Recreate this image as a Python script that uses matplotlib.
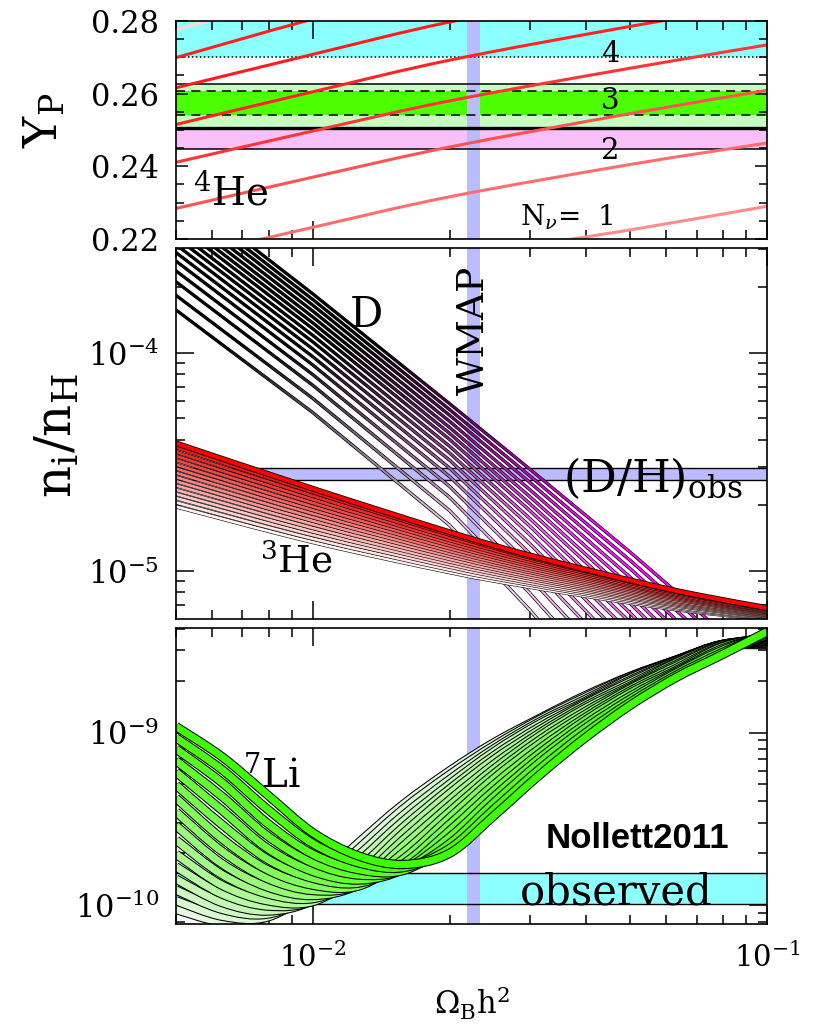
import numpy as np
import matplotlib.pyplot as plt
from matplotlib.collections import LineCollection
from matplotlib.colors import to_rgb
from matplotlib.path import Path
from matplotlib.patches import PathPatch
from matplotlib.ticker import MultipleLocator, NullFormatter, FormatStrFormatter, LogLocator

plt.rcParams['font.family'] = ['DejaVu Serif']
plt.rcParams['mathtext.fontset'] = 'dejavuserif'

# WMAP baryon density
wmap_lo, wmap_hi = 0.0219, 0.0233

# --- 4He mass fraction Y_P vs Omega_B h^2, one curve per N_nu = 1..8
yp_x = [0.005, 0.01, 0.02, 0.05, 0.1]
yp_n1 = [0.1970, 0.2060, 0.2145, 0.2225, 0.2290]
yp_n2 = [0.2145, 0.2232, 0.2316, 0.2405, 0.2464]
yp_n3 = [0.2284, 0.2370, 0.2453, 0.2545, 0.2609]
yp_n4 = [0.2411, 0.2497, 0.2580, 0.2670, 0.2734]
yp_n5 = [0.2515, 0.2605, 0.2692, 0.2785, 0.2850]
yp_n6 = [0.2616, 0.2708, 0.2797, 0.2890, 0.2955]
yp_n7 = [0.2699, 0.2805, 0.2900, 0.3000, 0.3070]
yp_n8 = [0.2776, 0.2880, 0.2980, 0.3080, 0.3150]
yp_curves = [yp_n1, yp_n2, yp_n3, yp_n4, yp_n5, yp_n6, yp_n7, yp_n8]
yp_colors = ['#ff8c8c', '#ff6e6e', '#ff5252', '#ff3535', '#ff2424', '#ff1c1c', '#ff2020', '#ffd6d6']

# Y_P observational ranges
yp_cyan = (0.2700, 0.2800)
yp_lightgreen = (0.2506, 0.2626)
yp_green = (0.2541, 0.2607)
yp_pink = (0.2448, 0.2506)

# --- deuterium, log10(D/H), curves from lowest to outermost
d_x = [0.005, 0.01, 0.02, 0.03, 0.05, 0.07, 0.1]
d_log = [
    [-3.804, -4.274, -4.790, -5.177, -5.710, -6.100, -6.600],
    [-3.737, -4.209, -4.723, -5.100, -5.614, -5.989, -6.464],
    [-3.675, -4.149, -4.662, -5.029, -5.527, -5.888, -6.340],
    [-3.625, -4.100, -4.612, -4.971, -5.455, -5.805, -6.238],
    [-3.580, -4.056, -4.567, -4.919, -5.392, -5.731, -6.148],
    [-3.541, -4.018, -4.528, -4.874, -5.336, -5.666, -6.069],
    [-3.505, -3.983, -4.492, -4.832, -5.284, -5.606, -5.995],
    [-3.471, -3.950, -4.459, -4.793, -5.236, -5.551, -5.928],
    [-3.441, -3.920, -4.428, -4.758, -5.193, -5.500, -5.865],
    [-3.410, -3.890, -4.397, -4.722, -5.149, -5.449, -5.803],
    [-3.382, -3.863, -4.369, -4.690, -5.109, -5.403, -5.747],
    [-3.354, -3.836, -4.342, -4.658, -5.069, -5.357, -5.690],
    [-3.326, -3.809, -4.314, -4.626, -5.029, -5.311, -5.634],
    [-3.298, -3.782, -4.286, -4.593, -4.990, -5.265, -5.577],
    [-3.272, -3.756, -4.260, -4.563, -4.952, -5.221, -5.524],
    [-3.245, -3.730, -4.233, -4.532, -4.914, -5.177, -5.470],
]
dh_obs = (2.60e-5, 2.97e-5)

# --- helium-3, log10(3He/H), lowest to highest
he_x = [0.005, 0.01, 0.02, 0.03, 0.05, 0.07, 0.1]
he_log = [
    [-4.705, -4.868, -5.006, -5.073, -5.146, -5.188, -5.222],
    [-4.686, -4.852, -4.994, -5.063, -5.139, -5.183, -5.218],
    [-4.666, -4.835, -4.981, -5.054, -5.132, -5.178, -5.215],
    [-4.647, -4.819, -4.969, -5.044, -5.125, -5.172, -5.211],
    [-4.628, -4.803, -4.957, -5.034, -5.119, -5.167, -5.208],
    [-4.608, -4.786, -4.945, -5.025, -5.112, -5.162, -5.204],
    [-4.589, -4.770, -4.932, -5.015, -5.105, -5.157, -5.201],
    [-4.570, -4.754, -4.920, -5.005, -5.098, -5.152, -5.197],
    [-4.550, -4.737, -4.908, -4.996, -5.091, -5.146, -5.194],
    [-4.531, -4.721, -4.896, -4.986, -5.084, -5.141, -5.190],
    [-4.512, -4.705, -4.883, -4.976, -5.077, -5.136, -5.187],
    [-4.492, -4.688, -4.871, -4.967, -5.070, -5.131, -5.183],
    [-4.473, -4.672, -4.859, -4.957, -5.064, -5.126, -5.180],
    [-4.454, -4.656, -4.847, -4.947, -5.057, -5.120, -5.176],
    [-4.434, -4.639, -4.834, -4.938, -5.050, -5.115, -5.173],
    [-4.415, -4.623, -4.822, -4.928, -5.043, -5.110, -5.169],
]

# --- lithium-7, log10(7Li/H), bright (top at low density) to pale
li_x = [0.005, 0.00631, 0.00794, 0.01, 0.0126, 0.0158, 0.02,
        0.0251, 0.0316, 0.0398, 0.0501, 0.0631, 0.0794, 0.1]
li_log = [
    [-8.965, -9.140, -9.360, -9.580, -9.715, -9.765, -9.700, -9.480, -9.245, -9.030, -8.840, -8.680, -8.550, -8.415],
    [-9.030, -9.215, -9.443, -9.643, -9.755, -9.783, -9.673, -9.443, -9.211, -9.003, -8.823, -8.668, -8.538, -8.425],
    [-9.095, -9.290, -9.525, -9.705, -9.795, -9.800, -9.645, -9.405, -9.175, -8.975, -8.805, -8.655, -8.525, -8.435],
    [-9.163, -9.370, -9.598, -9.756, -9.826, -9.796, -9.608, -9.370, -9.148, -8.953, -8.788, -8.648, -8.516, -8.440],
    [-9.230, -9.450, -9.670, -9.805, -9.855, -9.790, -9.570, -9.335, -9.120, -8.930, -8.770, -8.640, -8.505, -8.445],
    [-9.305, -9.533, -9.733, -9.845, -9.873, -9.763, -9.533, -9.301, -9.093, -8.913, -8.758, -8.628, -8.501, -8.450],
    [-9.380, -9.615, -9.795, -9.885, -9.890, -9.735, -9.495, -9.265, -9.065, -8.895, -8.745, -8.615, -8.495, -8.455],
    [-9.460, -9.688, -9.846, -9.916, -9.886, -9.698, -9.460, -9.238, -9.043, -8.878, -8.738, -8.606, -8.493, -8.460],
    [-9.540, -9.760, -9.895, -9.945, -9.880, -9.660, -9.425, -9.210, -9.020, -8.860, -8.730, -8.595, -8.490, -8.465],
    [-9.623, -9.823, -9.935, -9.963, -9.853, -9.623, -9.391, -9.183, -9.003, -8.848, -8.718, -8.591, -8.491, -8.470],
    [-9.705, -9.885, -9.975, -9.980, -9.825, -9.585, -9.355, -9.155, -8.985, -8.835, -8.705, -8.585, -8.490, -8.470],
    [-9.778, -9.936, -10.006, -9.976, -9.788, -9.550, -9.328, -9.133, -8.968, -8.828, -8.696, -8.583, -8.490, -8.475],
    [-9.850, -9.985, -10.035, -9.970, -9.750, -9.515, -9.300, -9.110, -8.950, -8.820, -8.685, -8.580, -8.490, -8.480],
    [-9.913, -10.025, -10.053, -9.943, -9.713, -9.481, -9.273, -9.093, -8.938, -8.808, -8.681, -8.581, -8.493, -8.480],
    [-9.975, -10.065, -10.070, -9.915, -9.675, -9.445, -9.245, -9.075, -8.925, -8.795, -8.675, -8.580, -8.495, -8.485],
    [-10.026, -10.096, -10.066, -9.878, -9.640, -9.418, -9.223, -9.058, -8.918, -8.786, -8.673, -8.580, -8.498, -8.490],
]
li_obs = (1.01e-10, 1.53e-10)


def mix(c1, c2, t):
    a, b = np.array(to_rgb(c1)), np.array(to_rgb(c2))
    return tuple(a + (b - a) * t)


def smooth_path(x, y, logy=True):
    # Catmull-Rom through the points, worked out in log space, as a bezier path
    px = np.log10(x)
    py = np.log10(y) if logy else np.asarray(y, float)
    p = np.column_stack([px, py])
    n = len(p)
    verts = [p[0]]
    codes = [Path.MOVETO]
    for i in range(n - 1):
        p0 = p[i - 1] if i > 0 else p[i]
        p3 = p[i + 2] if i + 2 < n else p[i + 1]
        verts += [p[i] + (p[i + 1] - p0) / 6, p[i + 1] - (p3 - p[i]) / 6, p[i + 1]]
        codes += [Path.CURVE4] * 3
    v = np.array(verts)
    v[:, 0] = 10 ** v[:, 0]
    if logy:
        v[:, 1] = 10 ** v[:, 1]
    return Path(v, codes)


def ribbon(ax, x, y, color, w, edge, z=3, logy=True):
    path = smooth_path(x, y, logy)
    if edge > 0:
        ax.add_patch(PathPatch(path, fill=False, ec='black', lw=w + 2 * edge,
                               joinstyle='round', capstyle='butt', zorder=z))
    ax.add_patch(PathPatch(path, fill=False, ec=color, lw=w,
                           joinstyle='round', capstyle='butt', zorder=z))


def faded_ribbon(ax, x, ly, color, w, edge, z=3):
    # black outline, core fades from black to colour as the abundance drops
    ax.plot(x, 10 ** np.asarray(ly), color='black', lw=w + 2 * edge,
            solid_joinstyle='round', zorder=z)
    lx = np.log10(x)
    ly = np.asarray(ly)
    fx, fy = [], []
    t = np.linspace(0, 1, 10, endpoint=False)
    for i in range(len(lx) - 1):
        fx.append(lx[i] + t * (lx[i + 1] - lx[i]))
        fy.append(ly[i] + t * (ly[i + 1] - ly[i]))
    fx.append(lx[-1:])
    fy.append(ly[-1:])
    fx, fy = np.concatenate(fx), np.concatenate(fy)
    pts = np.column_stack([10 ** fx, 10 ** fy])
    segs = np.stack([pts[:-1], pts[1:]], axis=1)
    mid = 0.5 * (fy[:-1] + fy[1:])
    f = np.clip((-3.95 - mid) / 0.85, 0, 1)[:, None]
    cols = f * np.array(to_rgb(color))
    lc = LineCollection(segs, colors=cols, linewidths=w, zorder=z, capstyle='round')
    ax.add_collection(lc)


fig = plt.figure(figsize=(8.21, 10.26), dpi=100)
ax1 = fig.add_axes([0.2144, 0.7671, 0.7199, 0.2125])
ax2 = fig.add_axes([0.2144, 0.3967, 0.7199, 0.3616])
ax3 = fig.add_axes([0.2144, 0.0994, 0.7199, 0.2885])

for ax in (ax1, ax2, ax3):
    ax.set_xscale('log')
    ax.set_xlim(0.005, 0.1)
    ax.axvspan(wmap_lo, wmap_hi, color='#bbbbff', lw=0, zorder=1.5)
    ax.xaxis.set_minor_locator(LogLocator(subs=np.arange(2, 10)))
    ax.xaxis.set_minor_formatter(NullFormatter())
    ax.tick_params(which='both', direction='in', top=True, right=True, width=1.1)
    ax.tick_params(which='major', length=13)
    ax.tick_params(which='minor', length=6.5)
    ax.tick_params(axis='y', labelsize=22, pad=12)
    ax.tick_params(axis='x', labelsize=21, pad=13)
    for s in ax.spines.values():
        s.set_linewidth(1.2)
        s.set_zorder(10)

# ---- top: Y_P
ax1.set_ylim(0.22, 0.28)
ax1.axhspan(*yp_cyan, color='#8cffff', lw=0, zorder=1)
ax1.axhspan(*yp_lightgreen, color='#c6ffc0', lw=0, zorder=1)
ax1.axhspan(*yp_green, color='#4cff00', lw=0, zorder=1.1)
ax1.axhspan(*yp_pink, color='#f8c0f8', lw=0, zorder=1)
ax1.axhline(yp_cyan[0], color='black', lw=1.1, ls=(0, (1, 1.6)), zorder=2)
ax1.axhline(yp_lightgreen[1], color='black', lw=1.1, zorder=2)
ax1.axhline(yp_green[1], color='black', lw=1.1, ls=(0, (6, 4)), zorder=2)
ax1.axhline(yp_green[0], color='black', lw=1.1, ls=(0, (6, 4)), zorder=2)
ax1.axhline(yp_pink[1], color='black', lw=2.4, zorder=2)
ax1.axhline(yp_pink[0], color='black', lw=1.1, zorder=2)
for y, c in zip(yp_curves, yp_colors):
    ribbon(ax1, yp_x, y, c, 2.2, 0, z=3, logy=False)
ax1.yaxis.set_major_locator(MultipleLocator(0.02))
ax1.yaxis.set_minor_locator(MultipleLocator(0.005))
ax1.yaxis.set_major_formatter(FormatStrFormatter('%.2f'))
ax1.tick_params(which='major', axis='y', length=8.5)
ax1.tick_params(which='minor', axis='y', length=6)
ax1.tick_params(axis='x', labelbottom=False)
ax1.text(0.00545, 0.2294, r'$^{4}$He', fontsize=28, zorder=5)
ax1.text(0.0451, 0.2709, '4', fontsize=21, ha='center', va='center', zorder=5)
ax1.text(0.0451, 0.2580, '3', fontsize=21, ha='center', va='center', zorder=5)
ax1.text(0.0451, 0.2442, '2', fontsize=21, ha='center', va='center', zorder=5)
ax1.text(0.0363, 0.2238, r'N$_{\nu}$=  1', fontsize=20, ha='center', zorder=5)

# ---- middle: D and 3He
ax2.set_yscale('log')
ax2.set_ylim(6.03e-6, 3.02e-4)
ax2.axhspan(*dh_obs, color='#bbbbff', lw=0, zorder=1)
ax2.axhline(dh_obs[0], color='black', lw=1.0, zorder=2)
ax2.axhline(dh_obs[1], color='black', lw=1.0, zorder=2)
n_d = len(d_log)
for k, row in enumerate(d_log):
    faded_ribbon(ax2, d_x, row, mix('#f2cef2', '#ff00ff', k / (n_d - 1)), 1.4, 0.5, z=3)
n_he = len(he_log)
for k, row in enumerate(he_log):
    if k == n_he - 1:
        ribbon(ax2, he_x, 10 ** np.array(row), '#ff0000', 3.0, 0.6, z=4)
    else:
        ribbon(ax2, he_x, 10 ** np.array(row), mix('#fff2f2', '#e41c1c', k / (n_he - 2)), 2.0, 0.4, z=4)
ax2.yaxis.set_minor_formatter(NullFormatter())
ax2.tick_params(axis='x', labelbottom=False)
ax2.text(0.01315, 1.49e-4, 'D', fontsize=30, ha='center', va='center', zorder=5)
ax2.text(0.00764, 9.8e-6, r'$^{3}$He', fontsize=27, zorder=5)
ax2.text(0.0226, 1.27e-4, 'WMAP', fontsize=27, rotation=90, ha='center', va='center', zorder=5)
ax2.text(0.0355, 2.30e-5, r'(D/H)$_{\rm obs}$', fontsize=32, zorder=5)

# ---- bottom: 7Li
ax3.set_yscale('log')
ax3.set_ylim(7.76e-11, 4.04e-9)
ax3.axhspan(*li_obs, color='#8cffff', lw=0, zorder=1)
ax3.axhline(li_obs[0], color='black', lw=1.0, zorder=2)
ax3.axhline(li_obs[1], color='black', lw=1.0, zorder=2)
n_li = len(li_log)
for k in range(n_li - 1, -1, -1):
    c = mix('#3dff00', '#e6f8e2', k / (n_li - 1))
    ribbon(ax3, li_x, 10 ** np.array(li_log[k]), c, 5.2, 0.75, z=3)
ax3.yaxis.set_minor_formatter(NullFormatter())
ax3.text(0.00701, 4.84e-10, r'$^{7}$Li', fontsize=28, zorder=5)
ax3.text(0.02856, 1.01e-10, 'observed', fontsize=30, zorder=5)
ax3.set_xlabel(r'$\Omega_{\rm B}$h$^{2}$', fontsize=22, labelpad=9)

fig.text(0.7759, 0.1832, 'Nollett2011', family='Liberation Sans', fontweight='bold',
         fontsize=25, ha='center', va='center')
fig.text(0.055, 0.883, r'Y$_{\rm P}$', fontsize=34, rotation=90, ha='center', va='center')
fig.text(0.0706, 0.576, r'n$_{\rm i}$/n$_{\rm H}$', fontsize=36, rotation=90, ha='center', va='center')

fig.savefig('out.png', dpi=100)
